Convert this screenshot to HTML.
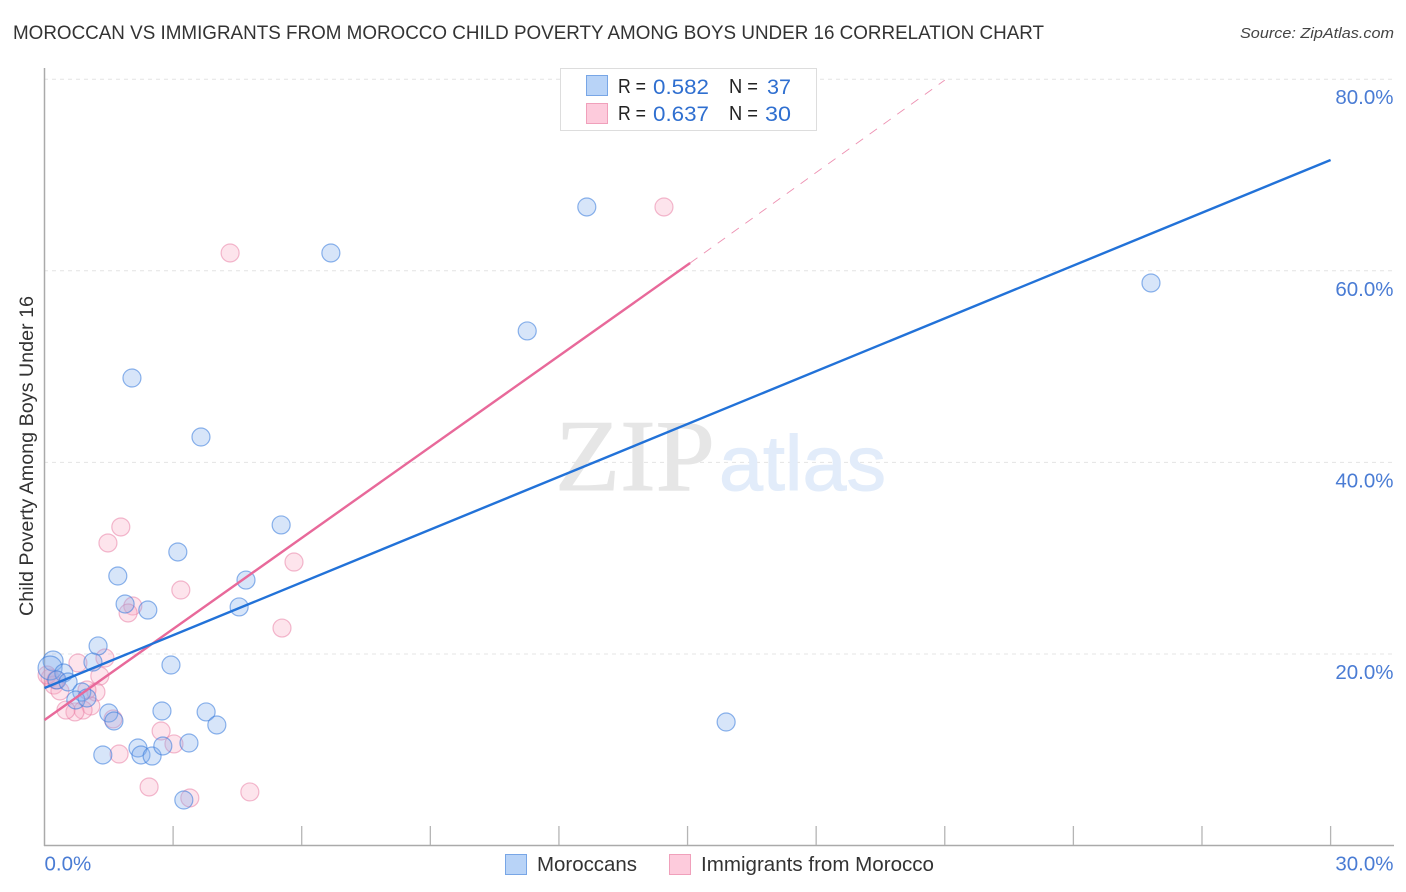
<!DOCTYPE html>
<html lang="en">
<head>
<meta charset="utf-8">
<title>Moroccan vs Immigrants from Morocco Child Poverty Chart</title>
<style>
html,body{margin:0;padding:0;background:#fff;width:1406px;height:892px;overflow:hidden}
svg{display:block;font-family:"Liberation Sans",sans-serif}
</style>
</head>
<body>
<svg id="chart" width="1406" height="892" viewBox="0 0 1406 892" xmlns="http://www.w3.org/2000/svg">
  <text x="13" y="39" font-size="19" fill="#333" textLength="1031" lengthAdjust="spacingAndGlyphs">MOROCCAN VS IMMIGRANTS FROM MOROCCO CHILD POVERTY AMONG BOYS UNDER 16 CORRELATION CHART</text>
  <text x="1394" y="38" font-size="15" font-style="italic" fill="#444" text-anchor="end" textLength="154" lengthAdjust="spacingAndGlyphs">Source: ZipAtlas.com</text>

  <g id="grid"></g>

  <g>
    <text x="555" y="490" font-family="'Liberation Serif',serif" font-size="102" fill="#e6e6e6" stroke="#e6e6e6" stroke-width="1" textLength="160" lengthAdjust="spacingAndGlyphs">ZIP</text>
    <text x="719" y="490" font-size="78" fill="#e2ecfa" stroke="#e2ecfa" stroke-width="1" textLength="167" lengthAdjust="spacingAndGlyphs">atlas</text>
  </g>

  <g id="axes"></g>
  <g id="pink-points"></g>
  <g id="blue-points"></g>
  <g id="trends"></g>
  <g id="labels"></g>

  <text transform="translate(33,456) rotate(-90)" font-size="19" fill="#333" text-anchor="middle" textLength="320" lengthAdjust="spacingAndGlyphs">Child Poverty Among Boys Under 16</text>

  <g>
    <rect x="560.5" y="68.5" width="256" height="62" fill="#fff" stroke="#ddd"/>
    <rect x="586.5" y="75.5" width="21" height="20" fill="#b8d3f7" stroke="#78a6e6"/>
    <rect x="586.5" y="103.5" width="21" height="20" fill="#fdcbdc" stroke="#f0a0bb"/>
    <text x="618" y="93" font-size="20" fill="#222" textLength="28" lengthAdjust="spacingAndGlyphs">R =</text>
    <text x="653" y="94" font-size="21.5" fill="#2f6fd0" textLength="56" lengthAdjust="spacingAndGlyphs">0.582</text>
    <text x="729" y="93" font-size="20" fill="#222" textLength="29" lengthAdjust="spacingAndGlyphs">N =</text>
    <text x="767" y="94" font-size="21.5" fill="#2f6fd0" textLength="24" lengthAdjust="spacingAndGlyphs">37</text>
    <text x="618" y="120" font-size="20" fill="#222" textLength="28" lengthAdjust="spacingAndGlyphs">R =</text>
    <text x="653" y="121" font-size="21.5" fill="#2f6fd0" textLength="56" lengthAdjust="spacingAndGlyphs">0.637</text>
    <text x="729" y="120" font-size="20" fill="#222" textLength="29" lengthAdjust="spacingAndGlyphs">N =</text>
    <text x="765" y="121" font-size="21.5" fill="#2f6fd0" textLength="26" lengthAdjust="spacingAndGlyphs">30</text>
  </g>

  <g>
    <rect x="505.5" y="854.5" width="21" height="20" fill="#b8d3f7" stroke="#78a6e6"/>
    <text x="537" y="871" font-size="20" fill="#333" textLength="100" lengthAdjust="spacingAndGlyphs">Moroccans</text>
    <rect x="669.5" y="854.5" width="21" height="20" fill="#fdcbdc" stroke="#f0a0bb"/>
    <text x="701" y="871" font-size="20" fill="#333" textLength="233" lengthAdjust="spacingAndGlyphs">Immigrants from Morocco</text>
  </g>
</svg>
<script>
const blueX = [12.65,6.68,25.81,11.26,2.04,3.65,5.52,3.11,1.71,4.70,1.88,2.41,4.54,1.25,1.13,2.95,0.20,0.13,0.45,0.29,0.55,0.87,0.73,0.99,1.50,1.62,2.74,3.77,4.02,15.90,1.36,2.18,2.25,2.51,2.76,3.37,3.25];
const blueY = [66.66,61.86,58.73,53.72,48.81,42.65,33.47,30.65,28.14,27.72,25.22,24.59,24.91,20.84,19.16,18.85,19.27,18.54,18.02,17.29,17.08,16.03,15.20,15.41,13.84,13.01,14.05,13.95,12.59,12.90,9.46,10.19,9.46,9.35,10.40,10.71,4.76];
const pinkX = [14.45,4.33,5.82,1.78,1.48,3.18,2.06,1.95,5.54,1.41,0.78,0.13,0.22,0.36,1.29,1.20,0.99,1.08,0.90,0.71,0.50,1.60,2.72,3.02,1.74,2.44,4.79,3.39,0.06,0.27];
const pinkY = [66.66,61.86,29.60,33.26,31.59,26.68,25.01,24.28,22.71,19.58,19.06,17.49,16.76,16.14,17.70,16.03,16.24,14.57,14.15,13.95,14.15,13.22,11.96,10.61,9.56,6.12,5.60,4.97,17.81,17.29];
const blueTrendX = [0,30];
const blueTrendY = [16.45,71.57];
const pinkTrendX = [0,15.06];
const pinkTrendY = [13.11,60.81];
const pinkExtensionX = [15.06,21.0];
const pinkExtensionY = [60.81,79.9];
const yTicks = [20,40,60,80];
const yTickLabels = ['20.0%','40.0%','60.0%','80.0%'];
const xTicks = [3,6,9,12,15,18,21,24,27,30];
const xEdgeTicks = [0,30];
const xEdgeLabels = ['0.0%','30.0%'];

const NS = 'http://www.w3.org/2000/svg';
const sx = v => 44.5 + v * 42.87;
const sy = v => 845.6 - v * 9.58;
function make(tag, parent, attrs) {
  const el = document.createElementNS(NS, tag);
  for (const k in attrs) el.setAttribute(k, attrs[k]);
  parent.appendChild(el);
  return el;
}
const grid = document.getElementById('grid');
const axes = document.getElementById('axes');
const labels = document.getElementById('labels');
const trends = document.getElementById('trends');
const bluePts = document.getElementById('blue-points');
const pinkPts = document.getElementById('pink-points');

yTicks.forEach((t, i) => {
  const line = make('line', grid, {x1: 44, x2: 1394, y1: sy(t), y2: sy(t), stroke: '#e4e4e4', 'stroke-width': 1, 'stroke-dasharray': '4 4'});
  
  
  const label = make('text', labels, {x: 1393.5, y: sy(t) + 25, 'font-size': 20.5, fill: '#4a7cd4', 'text-anchor': 'end'});
  
  
  label.textContent = yTickLabels[i];
});

const yAxis = make('line', axes, {x1: 44.5, x2: 44.5, y1: 68, y2: 846, stroke: '#aaa', 'stroke-width': 1.5});


const xAxis = make('line', axes, {x1: 44, x2: 1394, y1: 845.5, y2: 845.5, stroke: '#aaa', 'stroke-width': 1.5});



xTicks.forEach(t => {
  const tick = make('line', axes, {x1: sx(t), x2: sx(t), y1: 826, y2: 845, stroke: '#b5b5b5', 'stroke-width': 1.3});
  
  
});

xEdgeTicks.forEach((t, i) => {
  const label = make('text', labels, {x: i === 0 ? sx(t) : 1393.5, y: 870.5, 'font-size': 20.5, fill: '#4a7cd4', 'text-anchor': i === 0 ? 'start' : 'end'});
  
  
  label.textContent = xEdgeLabels[i];
});

pinkX.forEach((x, i) => {
  const c = make('circle', pinkPts, {cx: sx(x), cy: sy(pinkY[i]), r: 9, fill: 'rgba(250,170,195,0.32)', stroke: 'rgba(232,120,160,0.5)', 'stroke-width': 1.2});
  
  
});

blueX.forEach((x, i) => {
  const big = i === 17 ? 12 : (i === 16 ? 10 : 9);
  const c = make('circle', bluePts, {cx: sx(x), cy: sy(blueY[i]), r: big, fill: 'rgba(130,175,235,0.32)', stroke: 'rgba(60,125,220,0.58)', 'stroke-width': 1.2});
  
  
});

const pinkExt = make('line', trends, {x1: sx(pinkExtensionX[0]), y1: sy(pinkExtensionY[0]), x2: sx(pinkExtensionX[1]), y2: sy(pinkExtensionY[1]), stroke: '#e9769f', 'stroke-width': 0.9, 'stroke-dasharray': '9 8', opacity: 0.8});


const pinkTrend = make('line', trends, {x1: sx(pinkTrendX[0]), y1: sy(pinkTrendY[0]), x2: sx(pinkTrendX[1]), y2: sy(pinkTrendY[1]), stroke: '#e8699a', 'stroke-width': 2.4});


const blueTrend = make('line', trends, {x1: sx(blueTrendX[0]), y1: sy(blueTrendY[0]), x2: sx(blueTrendX[1]), y2: sy(blueTrendY[1]), stroke: '#2272d8', 'stroke-width': 2.4});


</script>
</body>
</html>
